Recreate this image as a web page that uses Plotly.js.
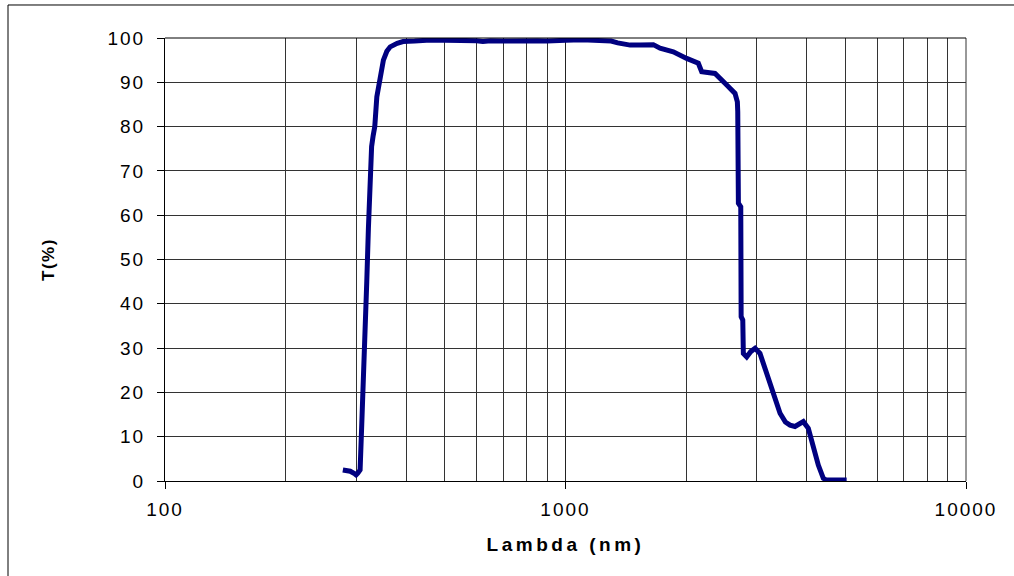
<!DOCTYPE html>
<html>
<head>
<meta charset="utf-8">
<script src="https://cdn.plot.ly/plotly-3.0.1.min.js"></script>
<style>
html,body{margin:0;padding:0;background:#fff;overflow:hidden;}
#chart{width:1014px;height:576px;}
.xtitle{letter-spacing:3.5px;}
.ytitle{letter-spacing:1.5px;}
.xtick text,.ytick text{letter-spacing:2px;}
</style>
</head>
<body>
<div id="chart"></div>
<script>
// Wavelength (nm)
const wavelength = [278, 290, 298, 300, 303, 307, 310, 313, 316, 319, 322, 325, 328, 331, 334, 338, 343, 351, 358, 365, 380, 393, 420, 450, 500, 550, 600, 622, 650, 700, 750, 800, 850, 900, 950, 1000, 1100, 1200, 1300, 1350, 1400, 1450, 1535, 1600, 1657, 1722, 1858, 2007, 2146, 2188, 2362, 2527, 2650, 2686, 2692, 2702, 2739, 2745, 2771, 2780, 2834, 2900, 2974, 3059, 3179, 3303, 3433, 3540, 3636, 3741, 3830, 3925, 4039, 4157, 4278, 4403, 4489, 5035];
// Transmission T (%)
const transmission = [2.5, 2.2, 1.6, 1.4, 1.8, 2.5, 13, 22, 30, 45, 57, 68, 75.5, 78, 80, 86.7, 90.5, 95, 97, 98, 98.8, 99.2, 99.3, 99.5, 99.5, 99.5, 99.4, 99.2, 99.4, 99.3, 99.4, 99.3, 99.4, 99.3, 99.5, 99.5, 99.6, 99.5, 99.3, 98.9, 98.5, 98.4, 98.4, 98.3, 98.5, 97.7, 96.9, 95.4, 94.3, 92.4, 92.0, 89.4, 87.5, 85.6, 83.4, 62.7, 61.9, 37.1, 36.3, 28.8, 28.0, 29.2, 29.95, 28.8, 24.3, 19.8, 15.3, 13.3, 12.6, 12.3, 12.8, 13.4, 11.9, 7.7, 3.6, 0.6, 0.2, 0.2];
const xTickVals = [100, 1000, 10000];
const xTickText = ['100', '1000', '10000'];
const yTickVals = [0, 10, 20, 30, 40, 50, 60, 70, 80, 90, 100];

const trace = {
  x: wavelength,
  y: transmission,
  type: 'scatter',
  mode: 'lines',
  line: {color: '#000080', width: 5},
  showlegend: false,
  hoverinfo: 'x+y'
};

const tickFont = {family: 'Liberation Sans, Arial, sans-serif', size: 19, color: '#000'};
const layout = {
  width: 1014,
  height: 576,
  margin: {l: 165, r: 48, t: 38, b: 95},
  paper_bgcolor: '#fff',
  plot_bgcolor: '#fff',
  showlegend: false,
  xaxis: {
    type: 'log',
    range: [2, 4],
    tickvals: xTickVals,
    ticktext: xTickText,
    ticks: 'outside',
    ticklen: 7,
    tickcolor: '#000',
    tickfont: tickFont,
    ticklabelstandoff: 4,
    showline: true,
    linecolor: '#000',
    linewidth: 1,
    showgrid: true,
    gridcolor: '#222',
    gridwidth: 1,
    minor: {dtick: 'D1', showgrid: true, gridcolor: '#333', gridwidth: 1, ticks: ''},
    zeroline: false,
    automargin: false,
    title: {text: 'Lambda (nm)', font: {family: 'Liberation Sans, Arial, sans-serif', size: 19, weight: 'bold', color: '#000'}, standoff: 18}
  },
  yaxis: {
    range: [0, 100],
    tickvals: yTickVals,
    ticks: 'outside',
    ticklen: 7,
    tickcolor: '#000',
    tickfont: tickFont,
    ticklabelstandoff: 8,
    showline: true,
    linecolor: '#000',
    linewidth: 1,
    showgrid: true,
    gridcolor: '#333',
    gridwidth: 1,
    zeroline: false,
    automargin: false,
    title: {text: 'T(%)', font: {family: 'Liberation Sans, Arial, sans-serif', size: 17, weight: 'bold', color: '#000'}, standoff: 48}
  },
  shapes: [
    {type: 'line', xref: 'paper', yref: 'paper', x0: 1, x1: 1, y0: 0, y1: 1, line: {color: '#333', width: 1}},
    {type: 'line', xref: 'paper', yref: 'paper', x0: 0, x1: 1, y0: 1, y1: 1, line: {color: '#000', width: 1}},
    {type: 'rect', xref: 'paper', yref: 'paper', x0: -0.196, x1: 1.07, y0: -0.23, y1: 1.0745, line: {color: '#000', width: 1}, fillcolor: 'rgba(0,0,0,0)', layer: 'below'}
  ]
};

Plotly.newPlot('chart', [trace], layout, {displayModeBar: false, staticPlot: true});
</script>
</body>
</html>
